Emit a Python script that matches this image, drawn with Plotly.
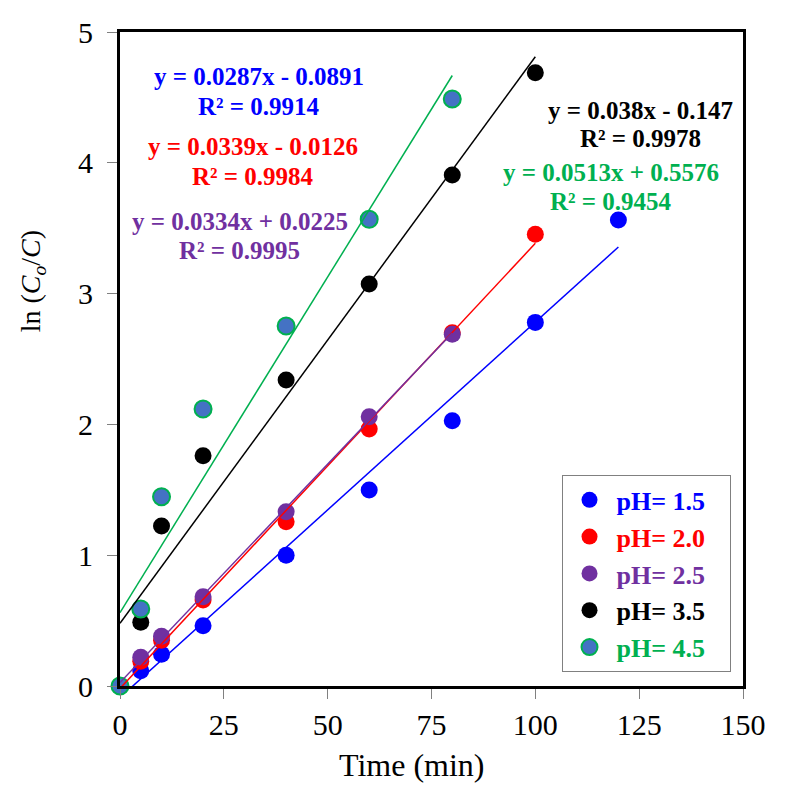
import numpy as np
import plotly.graph_objects as go

# ---------------- data ----------------
series_names = ["pH= 1.5", "pH= 2.0", "pH= 2.5", "pH= 3.5", "pH= 4.5"]
time_ph15 = [0, 5, 10, 20, 40, 60, 80, 100, 120]
lnc_ph15 = [0, 0.117, 0.242, 0.461, 1.00, 1.498, 2.028, 2.78, 3.563]
time_ph20 = [0, 5, 10, 20, 40, 60, 80, 100]
lnc_ph20 = [0, 0.19, 0.35, 0.657, 1.256, 1.965, 2.70, 3.453]
time_ph25 = [0, 5, 10, 20, 40, 60, 80]
lnc_ph25 = [0, 0.22, 0.38, 0.683, 1.333, 2.059, 2.69]
time_ph35 = [0, 5, 10, 20, 40, 60, 80, 100]
lnc_ph35 = [0, 0.487, 1.223, 1.761, 2.339, 3.073, 3.907, 4.689]
time_ph45 = [0, 5, 10, 20, 40, 60, 80]
lnc_ph45 = [0, 0.589, 1.447, 2.118, 2.752, 3.568, 4.488]

eq_texts = ["y = 0.0287x - 0.0891", "y = 0.0339x - 0.0126", "y = 0.0334x + 0.0225",
            "y = 0.038x - 0.147", "y = 0.0513x + 0.5576"]
r2_texts = ["R² = 0.9914", "R² = 0.9984", "R² = 0.9995", "R² = 0.9978", "R² = 0.9454"]
x_ticks = [0, 25, 50, 75, 100, 125, 150]
y_ticks = [0, 1, 2, 3, 4, 5]

# ---------------- styles ----------------
colors = ["#0000FF", "#FF0000", "#7030A0", "#000000", "#00B050"]
fill_colors = ["#0000FF", "#FF0000", "#7030A0", "#000000", "#4472C4"]
# annotation centres (data coords): line1 and line2 for each series
ann_pos = [((33.5, 4.658), (33.5, 4.434)),
           ((32.1, 4.123), (32.1, 3.899)),
           ((28.8, 3.550), (28.8, 3.333)),
           ((125.2, 4.398), (125.2, 4.182)),
           ((118.1, 3.924), (118.1, 3.703))]

times = [time_ph15, time_ph20, time_ph25, time_ph35, time_ph45]
values = [lnc_ph15, lnc_ph20, lnc_ph25, lnc_ph35, lnc_ph45]

SERIF = "Liberation Serif, Times New Roman, serif"

fig = go.Figure()

for i in range(5):
    fig.add_trace(go.Scatter(
        x=times[i], y=values[i], mode="markers",
        name="<b><span style='color:%s'>%s</span></b>&nbsp;&nbsp;&nbsp;" % (colors[i], series_names[i]),
        marker=dict(size=17, color=fill_colors[i],
                    line=dict(color=colors[i], width=2 if i == 4 else 0)),
        cliponaxis=False,
    ))

for i in range(5):
    t = np.array(times[i], dtype=float)
    v = np.array(values[i], dtype=float)
    k, b = np.polyfit(t, v, 1)
    tt = np.array([0.0, t.max()])
    fig.add_trace(go.Scatter(
        x=tt, y=k * tt + b, mode="lines", showlegend=False, hoverinfo="skip",
        line=dict(color=colors[i], width=1.5),
    ))

annotations = []
for i in range(5):
    for j, txt in enumerate([eq_texts[i], r2_texts[i]]):
        x0, y0 = ann_pos[i][j]
        annotations.append(dict(
            x=x0, y=y0, xref="x", yref="y", text="<b>%s</b>" % txt,
            showarrow=False, xanchor="center", yanchor="middle",
            font=dict(family=SERIF, size=25, color=colors[i]),
        ))

annotations.append(dict(
    x=-0.1404, y=0.618, xref="paper", yref="paper", textangle=-90,
    text="ln (<i>C</i><sub><i>o</i></sub>/<i>C</i>)", showarrow=False,
    xanchor="center", yanchor="middle",
    font=dict(family=SERIF, size=28, color="black"),
))
annotations.append(dict(
    x=0.4695, y=-0.1208, xref="paper", yref="paper",
    text="Time (min)", showarrow=False, xanchor="center", yanchor="middle",
    font=dict(family=SERIF, size=32, color="black"),
))

fig.update_layout(
    width=787, height=802,
    margin=dict(l=120, r=44, t=32, b=116),
    paper_bgcolor="white", plot_bgcolor="white",
    font=dict(family=SERIF, size=30, color="black"),
    annotations=annotations,
    legend=dict(
        x=0.7087, y=0.322, xanchor="left", yanchor="top",
        bgcolor="white", bordercolor="#808080", borderwidth=1,
        font=dict(family=SERIF, size=26),
        itemsizing="trace", itemwidth=44,
    ),
    xaxis=dict(
        range=[0, 150], tickvals=x_ticks, ticktext=[str(v) for v in x_ticks],
        showgrid=False, zeroline=False,
        showline=True, linecolor="black", linewidth=3, mirror=True,
        ticks="outside", ticklen=10, tickwidth=1, tickcolor="#808080",
        tickfont=dict(family=SERIF, size=30, color="black"),
    ),
    yaxis=dict(
        range=[0, 5], tickvals=y_ticks, ticktext=[str(v) for v in y_ticks],
        showgrid=False, zeroline=False,
        showline=True, linecolor="black", linewidth=3, mirror=True,
        ticks="outside", ticklen=10, tickwidth=1, tickcolor="#808080",
        tickfont=dict(family=SERIF, size=30, color="black"),
        ticklabelstandoff=8,
    ),
)

fig.write_html("out.html")
